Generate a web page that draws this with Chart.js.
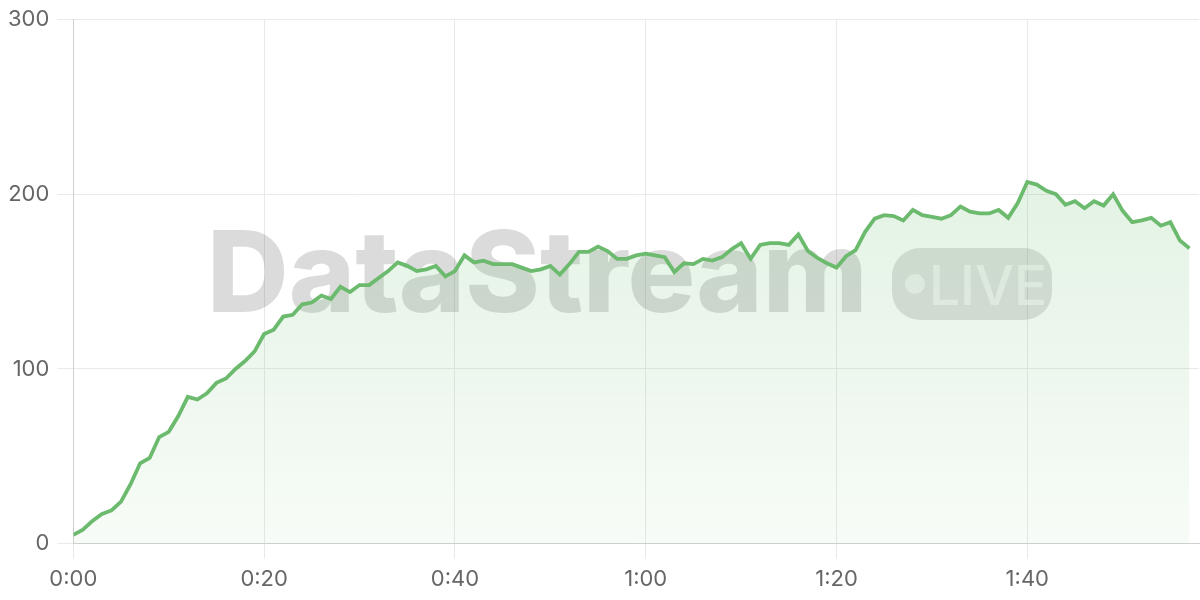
<!DOCTYPE html>
<html>
<head>
<meta charset="utf-8">
<script src="https://cdn.jsdelivr.net/npm/chart.js@4/dist/chart.umd.min.js"></script>
<style>
  html, body { margin: 0; padding: 0; background: #fff; }
  #wrap { width: 1200px; height: 600px; }
</style>
</head>
<body>
<div id="wrap"><canvas id="chart"></canvas></div>
<script>
// one reading per second
const seconds = [];
for (let s = 0; s <= 117; s++) seconds.push(s);

const values = [
    5, 8, 13, 17, 19, 24, 34, 46, 49, 61,
    64, 73, 84, 82.5, 86, 92, 94.5, 100, 104.5, 110,
    120, 122.5, 130, 131, 137, 138, 142, 140, 147, 144,
    148, 148, 152, 156, 161, 159, 156, 157, 159, 153,
    156, 165, 161, 162, 160, 160, 160, 158, 156, 157,
    159, 154, 160, 167, 167, 170, 167.5, 163, 163, 165,
    166, 165, 164, 155.5, 160.5, 160, 163, 162, 164, 168.5,
    172, 163, 171, 172, 172, 171, 177, 167.5, 163.5, 160.5,
    158, 164.5, 168, 178.5, 186, 188, 187.5, 185, 191, 188,
    187, 186, 188, 193, 190, 189, 189, 191, 186.5, 195,
    207, 205.5, 202, 200, 194, 196, 192, 196, 193.5, 200,
    190.5, 184, 185, 186.5, 182, 184, 173.5, 169
];

const xTicks = [0, 20, 40, 60, 80, 100];
const yTicks = [0, 100, 200, 300];

const lineColor = '#6cba6e';

function fmtTime(v) {
    const m = Math.floor(v / 60);
    const s = v % 60;
    return m + ':' + (s < 10 ? '0' : '') + s;
}

// big "DataStream  •LIVE" mark behind the line
const watermark = {
    id: 'watermark',
    beforeDatasetsDraw(chart) {
        const ctx = chart.ctx;
        ctx.save();
        ctx.fillStyle = 'rgba(0,0,0,0.14)';
        ctx.font = '800 113px Inter';
        ctx.textBaseline = 'alphabetic';
        ctx.textAlign = 'left';
        ctx.fillText('DataStream', 207, 312);

        // pill
        const x = 892, y = 248, w = 160, h = 72, r = 28;
        ctx.beginPath();
        ctx.roundRect(x, y, w, h, r);
        ctx.fillStyle = 'rgba(0,0,0,0.12)';
        ctx.fill();

        ctx.fillStyle = 'rgba(255,255,255,0.55)';
        ctx.beginPath();
        ctx.arc(915, 284, 10, 0, Math.PI * 2);
        ctx.fill();
        ctx.font = '500 55px Inter';
        ctx.fillText('LIVE', 929, 305);
        ctx.restore();
    }
};

const ctx = document.getElementById('chart').getContext('2d');

new Chart(ctx, {
    type: 'line',
    data: {
        labels: seconds,
        datasets: [{
            data: seconds.map((s, i) => ({ x: s, y: values[i] })),
            borderColor: lineColor,
            borderWidth: 3.8,
            pointRadius: 0,
            tension: 0,
            fill: 'start',
            backgroundColor: function (context) {
                const area = context.chart.chartArea;
                if (!area) return 'rgba(102,187,106,0.15)';
                const g = context.chart.ctx.createLinearGradient(0, area.top, 0, area.bottom);
                g.addColorStop(0, 'rgba(102,187,106,0.24)');
                g.addColorStop(1, 'rgba(102,187,106,0.05)');
                return g;
            }
        }]
    },
    options: {
        responsive: true,
        maintainAspectRatio: false,
        animation: false,
        layout: { padding: { top: 4, right: 1, left: 0, bottom: 0 } },
        plugins: {
            legend: { display: false },
            tooltip: { enabled: false }
        },
        scales: {
            x: {
                type: 'linear',
                min: 0,
                max: 118,
                afterBuildTicks: axis => { axis.ticks = xTicks.map(v => ({ value: v })); },
                grid: { color: '#e9e9e9', tickLength: 15 },
                border: { color: '#cfcfcf' },
                ticks: {
                    padding: 7.5,
                    color: '#666',
                    font: { family: 'Inter', size: 22 },
                    maxRotation: 0,
                    callback: v => fmtTime(v)
                }
            },
            y: {
                min: 0,
                max: 300,
                afterBuildTicks: axis => { axis.ticks = yTicks.map(v => ({ value: v })); },
                grid: { color: '#e9e9e9', tickLength: 16 },
                border: { color: '#cfcfcf' },
                ticks: {
                    padding: 8,
                    color: '#666',
                    font: { family: 'Inter', size: 22, lineHeight: 1.05 }
                }
            }
        }
    },
    plugins: [watermark]
});
</script>
</body>
</html>
